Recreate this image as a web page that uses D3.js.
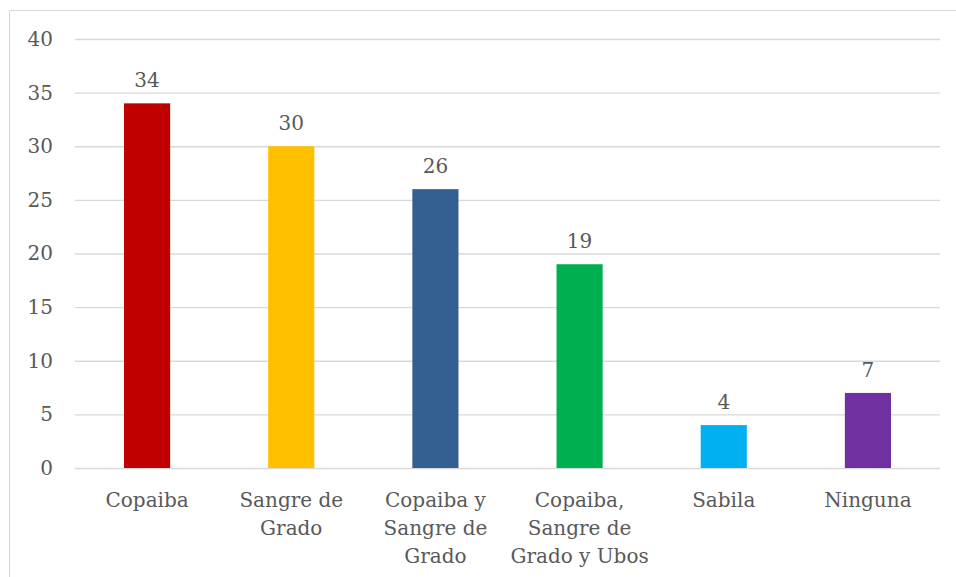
<!DOCTYPE html>
<html>
<head>
<meta charset="utf-8">
<script src="https://cdn.jsdelivr.net/npm/d3@7"></script>
<style>
    body { margin: 0; background: #fff; }
    text { font-family: "DejaVu Serif", serif; fill: #595959; }
</style>
</head>
<body>
<div id="chart"></div>
<script>
// chart data
var categories = ["Copaiba", "Sangre de Grado", "Copaiba y Sangre de Grado", "Copaiba, Sangre de Grado y Ubos", "Sabila", "Ninguna"];
var labelLines = [["Copaiba"], ["Sangre de", "Grado"], ["Copaiba y", "Sangre de", "Grado"], ["Copaiba,", "Sangre de", "Grado y Ubos"], ["Sabila"], ["Ninguna"]];
var values = [34, 30, 26, 19, 4, 7];
var barColors = ["#C00000", "#FFC000", "#335F91", "#00B050", "#00B0F0", "#7030A0"];
var yTicks = [0, 5, 10, 15, 20, 25, 30, 35, 40];

var svgWidth = 956, svgHeight = 577;
var margin = {top: 39, right: 16, bottom: 109, left: 75};
var width = svgWidth - margin.left - margin.right;
var height = svgHeight - margin.top - margin.bottom;

var svg = d3.select("#chart")
    .append("svg")
    .attr("width", svgWidth)
    .attr("height", svgHeight);

// chart frame
svg.append("rect")
    .attr("x", 9.5)
    .attr("y", 10.5)
    .attr("width", 960)
    .attr("height", 600)
    .attr("fill", "none")
    .attr("stroke", "#d9d9d9")
    .attr("stroke-width", 1);

var g = svg.append("g")
    .attr("transform", "translate(" + margin.left + "," + margin.top + ")");

var x = d3.scaleBand()
    .domain(categories)
    .range([0, width])
    .paddingInner(0.68)
    .paddingOuter(0.34);

var y = d3.scaleLinear()
    .domain([0, 40])
    .range([height, 0]);

// gridlines
g.append("g")
    .attr("class", "grid")
    .call(d3.axisLeft(y).tickValues(yTicks).tickSize(-width).tickFormat(""))
    .call(function (s) {
        s.select(".domain").remove();
        s.selectAll("line").attr("stroke", "#d9d9d9").attr("stroke-width", 1.3);
    });

// y axis labels
g.append("g")
    .call(d3.axisLeft(y).tickValues(yTicks).tickSize(0).tickPadding(22))
    .call(function (s) {
        s.select(".domain").remove();
        s.selectAll("text").attr("font-size", "20px").attr("font-family", null).style("fill", "#595959");
    });

// bars
g.selectAll(".bar")
    .data(values)
    .enter().append("rect")
    .attr("class", "bar")
    .attr("x", function (d, i) { return x(categories[i]); })
    .attr("y", function (d) { return y(d); })
    .attr("width", x.bandwidth())
    .attr("height", function (d) { return height - y(d); })
    .attr("fill", function (d, i) { return barColors[i]; });

// value labels
g.selectAll(".value")
    .data(values)
    .enter().append("text")
    .attr("class", "value")
    .attr("text-anchor", "middle")
    .attr("font-size", "20px")
    .attr("x", function (d, i) { return x(categories[i]) + x.bandwidth() / 2; })
    .attr("y", function (d) { return y(d) - 16; })
    .text(function (d) { return d; });

// category labels
var catG = g.selectAll(".cat")
    .data(labelLines)
    .enter().append("text")
    .attr("class", "cat")
    .attr("text-anchor", "middle")
    .attr("font-size", "20px")
    .attr("transform", function (d, i) {
        return "translate(" + (x(categories[i]) + x.bandwidth() / 2) + "," + (height + 39) + ")";
    });

catG.selectAll("tspan")
    .data(function (d) { return d; })
    .enter().append("tspan")
    .attr("x", 0)
    .attr("y", function (d, i) { return i * 28; })
    .text(function (d) { return d; });
</script>
</body>
</html>
